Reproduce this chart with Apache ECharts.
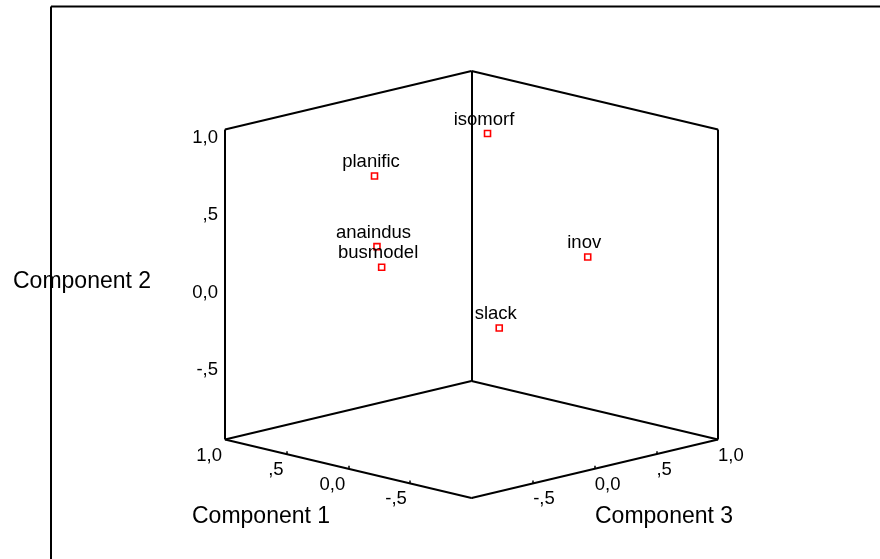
<!DOCTYPE html>
<html>
<head>
<meta charset="utf-8">
<script src="https://cdn.jsdelivr.net/npm/echarts@6/dist/echarts.min.js"></script>
<style>
  html, body { margin: 0; padding: 0; background: #fff; }
  #chart { width: 880px; height: 559px; }
</style>
</head>
<body>
<div id="chart"></div>
<script>
// ---- data (component loadings) ----
const variables = ['planific', 'anaindus', 'busmodel', 'isomorf', 'inov', 'slack'];
const comp1 = [0.817, 0.800, 0.780, 0.050, -0.020, 0.150];
const comp2 = [0.540, 0.087, -0.046, 0.931, 0.007, -0.380];
const comp3 = [0.030, 0.033, 0.051, 0.180, 0.923, 0.375];

const tickValues = [1, 0.5, 0, -0.5];
const tickLabels = ['1,0', ',5', '0,0', '-,5'];
const axisTitles = ['Component 1', 'Component 2', 'Component 3'];

// ---- oblique projection of the 3-D box onto the page ----
const K = 29.25 / 155;            // vertical shear of the floor axes
function proj(c1, c2, c3) { return [c3 - c1, c2 + K * (c1 + c3)]; }
const PX = 123.25, PY = 155;       // pixels per unit, used for tiny tick offsets
const YMAX = 1 + 2 * K;

const FONT = "'Liberation Sans', Arial, Helvetica, sans-serif";

// box edges (back walls + floor), in component space [c1,c2,c3]
const edges = [
  [[1, -1, -1], [1, 1, -1]],
  [[1, -1, 1], [1, 1, 1]],
  [[-1, -1, 1], [-1, 1, 1]],
  [[1, 1, -1], [1, 1, 1]],
  [[1, 1, 1], [-1, 1, 1]],
  [[1, -1, -1], [-1, -1, -1]],
  [[-1, -1, -1], [-1, -1, 1]],
  [[1, -1, -1], [1, -1, 1]],
  [[1, -1, 1], [-1, -1, 1]]
];
const edgeData = edges.map(e => ({ coords: [proj(...e[0]), proj(...e[1])] }));

// tick marks
const tickData = [];
tickValues.forEach(v => {
  if (v !== 1) {
    const p2 = proj(1, v, -1);
    tickData.push({ coords: [p2, [p2[0] - 3 / PX, p2[1]]] });
    const p1 = proj(v, -1, -1);
    tickData.push({ coords: [p1, [p1[0], p1[1] + 3 / PY]] });
    const p3 = proj(-1, -1, -v);
    tickData.push({ coords: [p3, [p3[0], p3[1] + 3 / PY]] });
  }
});
const pf = proj(-1, -1, -1);
tickData.push({ coords: [pf, [pf[0], pf[1] - 4 / PY]] });

// tick labels
const c2LabelData = tickValues.map((v, i) => ({ value: proj(1, v, -1), name: tickLabels[i] }));
const c1LabelData = tickValues.map((v, i) => ({ value: proj(v, -1, -1), name: tickLabels[i] }));
const c3LabelData = tickValues.map((v, i) => ({ value: proj(-1, -1, v), name: tickLabels[i] }));

const pointData = variables.map((n, i) => ({ value: proj(comp1[i], comp2[i], comp3[i]), name: n }));

function labelSeries(data, label) {
  return {
    type: 'scatter', data: data, symbol: 'circle', symbolSize: 0, silent: true, z: 5,
    itemStyle: { color: 'transparent', opacity: 1 },
    label: Object.assign({
      show: true, formatter: p => p.name, color: '#000', opacity: 1,
      fontFamily: FONT, fontSize: 18.5
    }, label)
  };
}

const chart = echarts.init(document.getElementById('chart'), null, { renderer: 'canvas' });
chart.setOption({
  animation: false,
  backgroundColor: '#fff',
  grid: { left: 225, top: 71, width: 493, height: 427 },
  xAxis: { type: 'value', min: -2, max: 2, show: false },
  yAxis: { type: 'value', min: -YMAX, max: YMAX, show: false },
  graphic: [
    { type: 'line', shape: { x1: 51, y1: 6.5, x2: 880, y2: 6.5 }, style: { stroke: '#000', lineWidth: 2 } },
    { type: 'line', shape: { x1: 51, y1: 6.5, x2: 51, y2: 559 }, style: { stroke: '#000', lineWidth: 2 } },
    { type: 'text', left: 192, top: 505, style: { text: axisTitles[0], font: "23px " + FONT, fill: '#000' } },
    { type: 'text', left: 13, top: 270, z: 10, style: { text: axisTitles[1], font: "23px " + FONT, fill: '#000' } },
    { type: 'text', left: 595, top: 505, style: { text: axisTitles[2], font: "23px " + FONT, fill: '#000' } }
  ],
  series: [
    {
      type: 'lines', coordinateSystem: 'cartesian2d', silent: true, polyline: false,
      data: edgeData, lineStyle: { color: '#000', width: 2, opacity: 1 }
    },
    {
      type: 'lines', coordinateSystem: 'cartesian2d', silent: true, polyline: false,
      data: tickData, lineStyle: { color: '#000', width: 1.5, opacity: 1 }
    },
    labelSeries(c2LabelData, { position: 'inside', align: 'right', verticalAlign: 'middle', offset: [-7, 8] }),
    labelSeries(c1LabelData, { position: 'inside', align: 'right', verticalAlign: 'middle', offset: [-3, 16] }),
    labelSeries(c3LabelData, { position: 'inside', align: 'left', verticalAlign: 'middle', offset: [0, 16] }),
    {
      type: 'scatter', data: pointData, symbol: 'rect', symbolSize: 6, silent: true, z: 4,
      itemStyle: { color: '#fff', borderColor: '#ff0000', borderWidth: 1.6, opacity: 1 },
      label: {
        show: true, position: 'inside', formatter: p => p.name, color: '#000', opacity: 1,
        fontFamily: FONT, fontSize: 18.5, offset: [-3.5, -14]
      }
    }
  ]
});
</script>
</body>
</html>
